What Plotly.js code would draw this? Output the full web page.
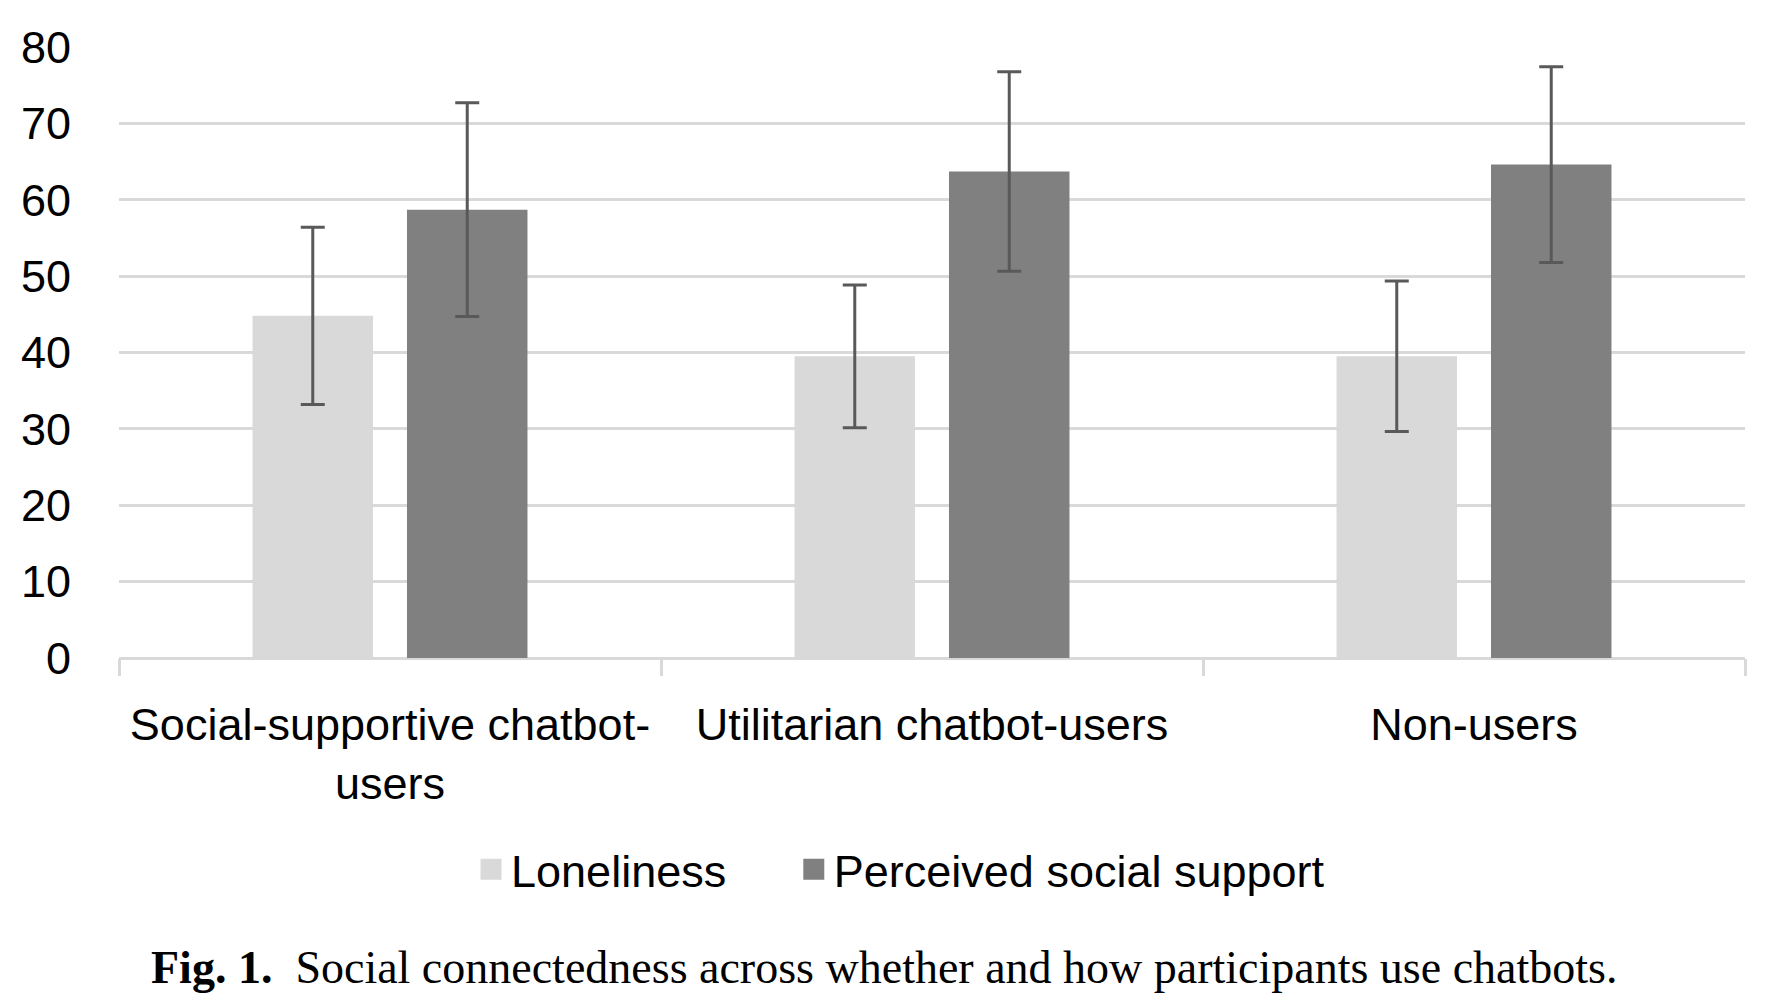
<!DOCTYPE html>
<html>
<head>
<meta charset="utf-8">
<script src="https://cdn.plot.ly/plotly-3.0.1.min.js"></script>
<style>
  html, body { margin: 0; padding: 0; background: #fff; }
  #chart { width: 1771px; height: 1004px; }
</style>
</head>
<body>
<div id="chart"></div>
<script>
// Groups and values
const groups = ['Social-supportive chatbot-<br>users', 'Utilitarian chatbot-users', 'Non-users'];
const loneliness = [44.8, 39.5, 39.5];
const lonelinessErr = [11.6, 9.35, 9.85];
const support = [58.7, 63.7, 64.6];
const supportErr = [14.0, 13.05, 12.8];
const yTicks = [0, 10, 20, 30, 40, 50, 60, 70, 80];

const LIGHT = '#d9d9d9';
const DARK = '#808080';
const ERR = '#595959';
const FONT = 'Liberation Sans, Arial, sans-serif';

function barTrace(name, values, errs, color) {
    return {
        type: 'bar',
        name: name,
        x: groups,
        y: values,
        marker: { color: color },
        error_y: { type: 'data', array: errs, visible: true, color: ERR, thickness: 3, width: 12 },
        showlegend: false,
        hoverinfo: 'y',
    };
}

// legend entries (bar swatches in the legend are too small otherwise)
function legendEntry(name, color, legendId) {
    return {
        type: 'scatter',
        mode: 'markers',
        name: name,
        x: [null],
        y: [null],
        legend: legendId,
        marker: { symbol: 'square', size: 16, color: color, line: { color: color, width: 5 } },
        hoverinfo: 'skip',
    };
}

function legendBox(x) {
    return {
        orientation: 'h',
        x: x,
        xanchor: 'left',
        y: -0.346,
        yanchor: 'middle',
        itemsizing: 'trace',
        font: { family: FONT, size: 45, color: '#000' },
        itemclick: false,
    };
}

const data = [
    barTrace('Loneliness', loneliness, lonelinessErr, LIGHT),
    barTrace('Perceived social support', support, supportErr, DARK),
    legendEntry('Loneliness', LIGHT, 'legend'),
    legendEntry('Perceived social support', DARK, 'legend2'),
];

const layout = {
    width: 1771,
    height: 1004,
    margin: { l: 119, r: 26, t: 47, b: 346 },
    paper_bgcolor: '#fff',
    plot_bgcolor: '#fff',
    font: { family: FONT, size: 45, color: '#000' },
    barmode: 'group',
    bargap: 0.43,
    bargroupgap: 0.22,
    xaxis: {
        type: 'category',
        showgrid: false,
        showline: false,
        zeroline: false,
        ticks: 'outside',
        tickson: 'boundaries',
        ticklen: 17,
        tickwidth: 3,
        tickcolor: LIGHT,
        ticklabelstandoff: 36,
        tickfont: { family: FONT, size: 45, color: '#000' },
    },
    yaxis: {
        range: [0, 80],
        tickvals: yTicks,
        showgrid: true,
        gridcolor: LIGHT,
        gridwidth: 3,
        zeroline: true,
        zerolinecolor: LIGHT,
        zerolinewidth: 3,
        showline: false,
        ticks: '',
        ticklabelstandoff: 47,
        tickfont: { family: FONT, size: 45, color: '#000' },
    },
    legend: legendBox(0.2165),
    legend2: legendBox(0.415),
    annotations: [{
        xref: 'paper',
        yref: 'paper',
        x: 0.4706,
        y: -0.5065,
        xanchor: 'center',
        yanchor: 'middle',
        showarrow: false,
        text: '<b>Fig. 1.</b>  Social connectedness across whether and how participants use chatbots.',
        font: { family: 'Liberation Serif, Times New Roman, serif', size: 46, color: '#000' },
    }],
};

Plotly.newPlot('chart', data, layout, { displayModeBar: false, staticPlot: true });
</script>
</body>
</html>
